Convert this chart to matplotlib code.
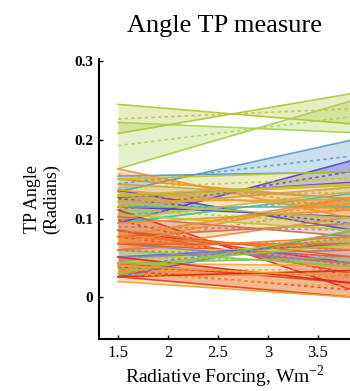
import numpy as np
import matplotlib
matplotlib.use("Agg")
import matplotlib.pyplot as plt

plt.rcParams['font.family'] = ['Liberation Serif', 'DejaVu Serif']
plt.rcParams['mathtext.fontset'] = 'custom'
plt.rcParams['mathtext.rm'] = 'Liberation Serif'

# x positions of the band ends
x_ends = [1.5, 3.85]

# band edge values at the left and right ends (two edges per band)
left_a  = [0.245, 0.222, 0.154, 0.094, 0.136, 0.115, 0.163, 0.144, 0.136, 0.130, 0.111, 0.102, 0.077, 0.085, 0.060, 0.051, 0.043, 0.026, 0.060, 0.068, 0.085, 0.077, 0.051, 0.094, 0.039, 0.020, 0.120, 0.150]
left_b  = [0.208, 0.163, 0.134, 0.127, 0.115, 0.094, 0.150, 0.115, 0.122, 0.100, 0.085, 0.077, 0.060, 0.068, 0.043, 0.026, 0.026, 0.043, 0.043, 0.051, 0.068, 0.060, 0.026, 0.068, 0.030, 0.040, 0.105, 0.128]
right_a = [0.220, 0.209, 0.159, 0.174, 0.085, 0.115, 0.100, 0.125, 0.111, 0.144, 0.009, 0.077, 0.127, 0.030, 0.060, 0.068, 0.018, 0.030, 0.039, 0.043, 0.051, 0.060, 0.018, 0.111, 0.068, 0.000, 0.100, 0.160]
right_b = [0.259, 0.250, 0.200, 0.146, 0.102, 0.132, 0.124, 0.140, 0.124, 0.134, 0.043, 0.094, 0.102, 0.051, 0.077, 0.085, 0.000, 0.040, 0.051, 0.060, 0.068, 0.077, 0.034, 0.127, 0.085, 0.026, 0.085, 0.142]
band_colors = ['#b4c232', '#a6cf4e', '#5497c6', '#5444c4', '#5a40b8', '#4cb8a0',
               '#f0902a', '#c8a050', '#e8a030', '#d8b040', '#e03020', '#c07060',
               '#f08a2a', '#e85020', '#e8c838', '#4a70c8', '#e83a1c', '#f0a040',
               '#88c050', '#8a80b0', '#e86028', '#f07828', '#d82818', '#f09030',
               '#a0c040', '#f0a030', '#b0c840', '#c0c030']

fig = plt.figure(figsize=(3.5, 3.91), dpi=100)
ax = fig.add_axes([0.283, 0.133, 0.717, 0.717])

for la, lb, ra, rb, c in zip(left_a, left_b, right_a, right_b, band_colors):
    ya = [la, ra]
    yb = [lb, rb]
    ax.fill_between(x_ends, ya, yb, color=c, alpha=0.3, linewidth=0)
    ax.plot(x_ends, ya, color=c, lw=1.2, alpha=0.9)
    ax.plot(x_ends, yb, color=c, lw=1.2, alpha=0.9)
    mid = [(la + lb) / 2, (ra + rb) / 2]
    ax.plot(x_ends, mid, color=c, lw=1.2, alpha=0.8, dashes=(2, 2))

ax.set_xlim(1.31, 3.82)
ax.set_ylim(-0.053, 0.303)
ax.set_xticks([1.5, 2, 2.5, 3, 3.5])
ax.set_xticklabels(['1.5', '2', '2.5', '3', '3.5'], fontsize=12)
ax.set_yticks([0, 0.1, 0.2, 0.3])
ax.set_yticklabels(['0', '0.1', '0.2', '0.3'], fontsize=11, fontweight='bold')
ax.tick_params(direction='in', length=3, width=1, pad=4)
for s in ['top', 'right']:
    ax.spines[s].set_visible(False)
for s in ['left', 'bottom']:
    ax.spines[s].set_linewidth(1.5)

ax.set_title('Angle TP measure', fontsize=19, pad=19)
ax.set_xlabel(r'Radiative Forcing, Wm$^{\mathregular{-2}}$', fontsize=14, labelpad=2)
ax.set_ylabel('TP Angle\n(Radians)', fontsize=13, labelpad=10)

fig.savefig('out.png', dpi=100)
